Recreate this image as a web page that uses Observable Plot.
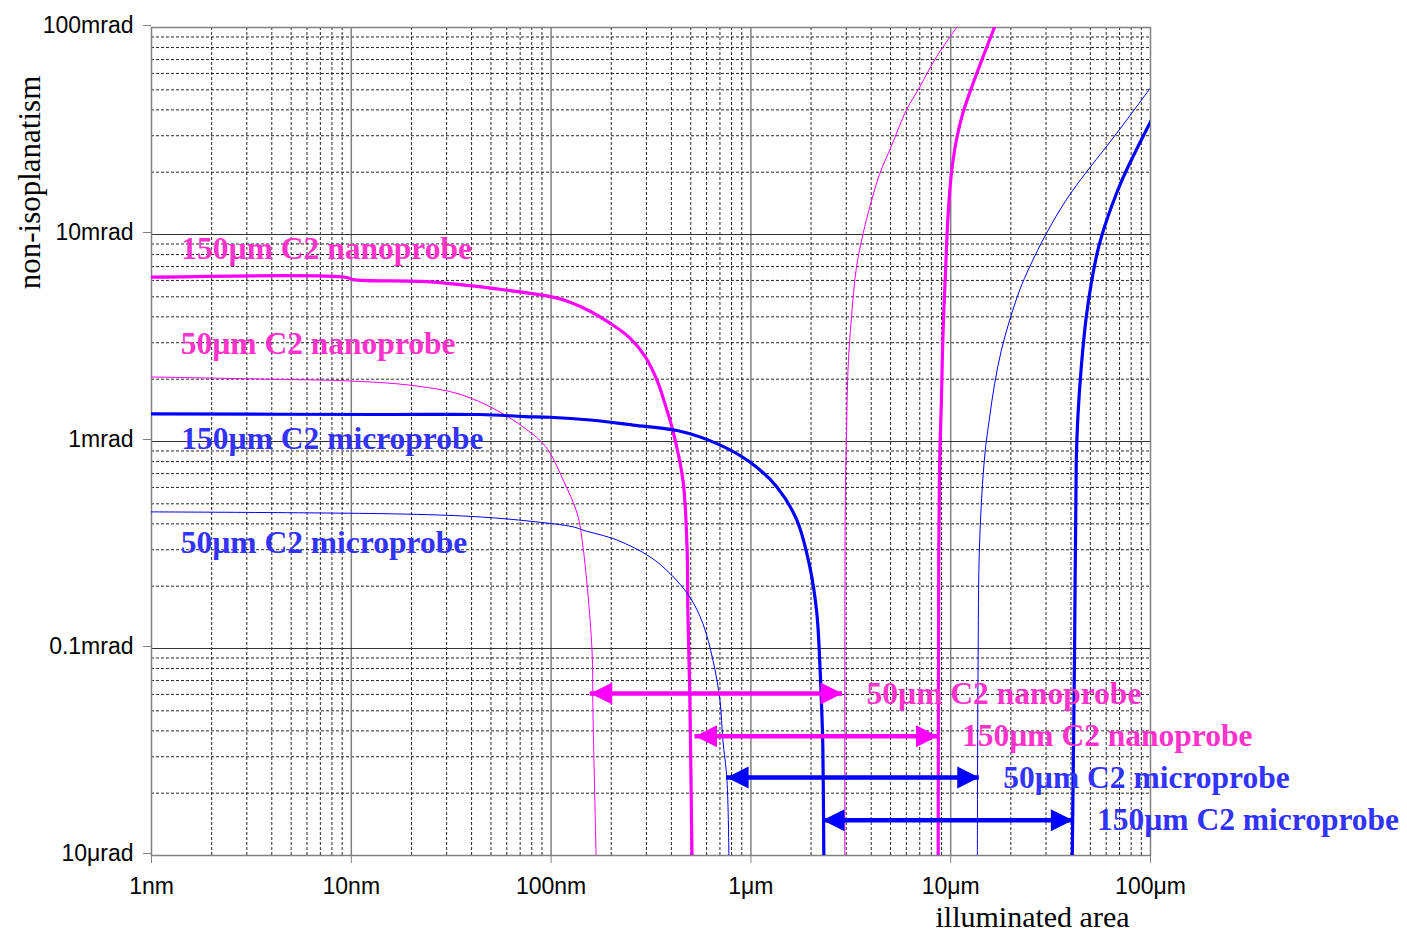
<!DOCTYPE html>
<html>
<head>
<meta charset="utf-8">
<script src="https://cdn.jsdelivr.net/npm/d3@7"></script>
<script src="https://cdn.jsdelivr.net/npm/@observablehq/plot@0.6"></script>
<style>
  html, body { margin: 0; padding: 0; background: #fff; }
  #chart { width: 1407px; height: 934px; }
</style>
</head>
<body>
<div id="chart"></div>
<script>
// ---------- axes / ticks ----------
const xTickValues = [1, 10, 100, 1000, 10000, 100000];            // nm
const xTickLabels = ["1nm", "10nm", "100nm", "1μm", "10μm", "100μm"];
const yTickValues = [0.01, 0.1, 1, 10, 100];                       // mrad
const yTickLabels = ["10μrad", "0.1mrad", "1mrad", "10mrad", "100mrad"];
const minorMultipliers = [2, 3, 4, 5, 6, 7, 8, 9];
const xDecades = [1, 10, 100, 1000, 10000];
const yDecades = [0.01, 0.1, 1, 10];

// ---------- curves: [illuminated area (nm), non-isoplanatism (mrad)] ----------
const nano150Left = [[1,6.22],[9.5,6.2],[10.2,6.05],[24.8,5.9],[60.3,5.38],[101,5.0],[124.5,4.71],[156.7,4.26],[197.2,3.73],[248.3,3.16],[295,2.58],[338.8,1.98],[380,1.416],[407,1.13],[457,0.65],[479,0.308],[484,0.148],[494,0.063],[507,0.01]];
const nano50Left = [[1,2.05],[3.9,2.0],[9.9,1.96],[19.7,1.87],[35.1,1.69],[57.5,1.36],[88.1,1.01],[98.9,0.878],[115,0.65],[135,0.45],[144.5,0.308],[160,0.101],[162,0.0488],[168,0.01]];
const micro150Left = [[1,1.36],[14,1.35],[44,1.35],[74,1.32],[98.9,1.31],[157,1.27],[257,1.2],[427,1.13],[676,0.977],[988,0.796],[1349,0.603],[1698,0.417],[1972,0.248],[2138,0.148],[2213,0.0847],[2265,0.0485],[2291,0.0335],[2317,0.01]];
const micro50Left = [[1,0.457],[18.6,0.446],[44.2,0.432],[78.5,0.412],[129,0.387],[144.5,0.373],[214,0.334],[313,0.277],[394,0.23],[495,0.177],[575,0.132],[646,0.0877],[700,0.0562],[724,0.0361],[759,0.0231],[776,0.01]];

const nano50Right = [[2951,0.01],[2955,0.17],[2968,0.52],[3010,1.09],[3066,2.29],[3188,4.0],[3377,6.97],[3644,10.1],[3936,13.6],[4416,19.7],[4955,25.6],[6003,39.9],[6998,51.6],[8483,72.1],[10877,102]];
const nano150Right = [[8657,0.01],[8720,0.3],[8810,0.812],[8985,1.585],[9152,3.33],[9441,6.97],[9694,12.2],[10081,19.7],[10678,28.6],[11523,38.8],[12931,53.6],[14509,72.1],[16596,100.7]];
const micro50Right = [[13600,0.01],[13700,0.076],[13964,0.334],[14800,0.85],[15668,1.315],[16596,1.905],[17929,2.76],[19724,3.85],[22131,5.38],[24831,6.97],[30096,10.1],[37888,14.7],[47698,20.0],[60048,26.5],[75596,35.5],[98062,49.8],[100000,51]];
const micro150Right = [[40598,0.01],[41687,0.098],[42511,0.812],[43302,1.315],[45031,2.29],[47698,4.0],[50524,5.8],[54513,8.4],[58884,10.9],[64788,14.2],[72695,18.7],[81564,23.7],[91518,29.6],[100806,35.6]];

// ---------- labels on the left ----------
const labelTexts = ["150µm C2 nanoprobe", "50µm C2 nanoprobe", "150µm C2 microprobe", "50µm C2 microprobe"];
const labelX = [1.41, 1.40, 1.41, 1.40];
const labelY = [8.49, 2.95, 1.026, 0.323];
const labelKind = ["nano", "nano", "micro", "micro"];

// ---------- double arrows ----------
const arrowLabels = ["50µm C2 nanoprobe", "150µm C2 nanoprobe", "50µm C2 microprobe", "150µm C2 microprobe"];
const arrowX1 = [157, 525, 756, 2283];
const arrowX2 = [2874, 8630, 13900, 40880];
const arrowY = [0.0606, 0.0377, 0.0238, 0.0148];
const arrowKind = ["nano", "nano", "micro", "micro"];

// ---------- styles ----------
const lineColor = {nano: "#ff00ff", micro: "#0000ff"};
const textColor = {nano: "#ff33cc", micro: "#3333ff"};
const serif = "'Times New Roman', 'Liberation Serif', serif";

const xMinor = xDecades.flatMap(d => minorMultipliers.map(m => d * m));
const yMinor = yDecades.flatMap(d => minorMultipliers.map(m => d * m));

const arrowHead = {
  draw(ctx, size) {
    const r = Math.sqrt(size / Math.PI);
    ctx.moveTo(0, 0);
    ctx.lineTo(-2 * r, -r);
    ctx.lineTo(-2 * r, r);
    ctx.closePath();
  }
};

const curves = [
  {data: nano150Left, kind: "nano", w: 3.2},
  {data: nano50Left, kind: "nano", w: 1},
  {data: micro150Left, kind: "micro", w: 3.2},
  {data: micro50Left, kind: "micro", w: 1},
  {data: nano50Right, kind: "nano", w: 1},
  {data: nano150Right, kind: "nano", w: 3.2},
  {data: micro50Right, kind: "micro", w: 1},
  {data: micro150Right, kind: "micro", w: 3.2}
];

const labels = labelTexts.map((t, i) => ({text: t, x: labelX[i], y: labelY[i], kind: labelKind[i]}));
const arrows = arrowLabels.map((t, i) => ({text: t, x1: arrowX1[i], x2: arrowX2[i], y: arrowY[i], kind: arrowKind[i]}));

const marks = [
  // minor grid
  Plot.ruleX(xMinor, {stroke: "#000", strokeWidth: 1, strokeDasharray: "3,2", strokeOpacity: 0.85}),
  Plot.ruleY(yMinor, {stroke: "#000", strokeWidth: 1, strokeDasharray: "3,2", strokeOpacity: 0.85}),
  // major grid
  Plot.ruleX([10, 100, 1000, 10000], {stroke: "#808080", strokeWidth: 1.5}),
  Plot.ruleY([0.1, 1, 10], {stroke: "#333", strokeWidth: 1.2}),
  Plot.frame({stroke: "#808080", strokeWidth: 1.5}),
  // axes
  Plot.axisY({ticks: yTickValues, tickFormat: d => yTickLabels[yTickValues.indexOf(d)], tickSize: 8, tickPadding: 10, stroke: "#808080", fill: "#000", label: null, dy: -2}),
  Plot.axisX({ticks: xTickValues, tickFormat: d => xTickLabels[xTickValues.indexOf(d)], tickSize: 8, tickPadding: 14, stroke: "#808080", fill: "#000", label: null}),
  // curves
  ...curves.map(c => Plot.line(c.data, {x: d => d[0], y: d => d[1], stroke: lineColor[c.kind], strokeWidth: c.w, curve: "catmull-rom", clip: true})),
  // arrows
  ...arrows.flatMap(a => [
    Plot.ruleY([a], {y: "y", x1: "x1", x2: "x2", stroke: lineColor[a.kind], strokeWidth: 4.5}),
    Plot.dot([a], {x: "x2", y: "y", r: 11, symbol: arrowHead, fill: lineColor[a.kind], stroke: "none"}),
    Plot.dot([a], {x: "x1", y: "y", r: 11, symbol: arrowHead, rotate: 180, fill: lineColor[a.kind], stroke: "none"}),
    Plot.text([a], {x: "x2", y: "y", text: "text", textAnchor: "start", dx: 24, fill: textColor[a.kind], fontFamily: serif, fontWeight: "bold", fontSize: 31.5})
  ]),
  // left labels
  ...labels.map(l => Plot.text([l], {x: "x", y: "y", text: "text", textAnchor: "start", fill: textColor[l.kind], fontFamily: serif, fontWeight: "bold", fontSize: 31.5})),
  // axis titles
  Plot.text(["non-isoplanatism"], {frameAnchor: "top-left", dx: -134, dy: 155, rotate: -90, textAnchor: "middle", fontFamily: serif, fontSize: 31, fill: "#000"}),
  Plot.text(["illuminated area"], {frameAnchor: "bottom-right", dx: -118, dy: 71, textAnchor: "middle", fontFamily: serif, fontSize: 30, fill: "#000"})
];

const chart = Plot.plot({
  width: 1407,
  height: 934,
  marginLeft: 151,
  marginRight: 257,
  marginTop: 27,
  marginBottom: 79,
  x: {type: "log", domain: [1, 100000]},
  y: {type: "log", domain: [0.01, 100]},
  style: {fontFamily: "Arial, 'Liberation Sans', sans-serif", fontSize: "23px", background: "#fff", overflow: "visible", color: "#000"},
  marks
});
document.getElementById("chart").appendChild(chart);
</script>
</body>
</html>
